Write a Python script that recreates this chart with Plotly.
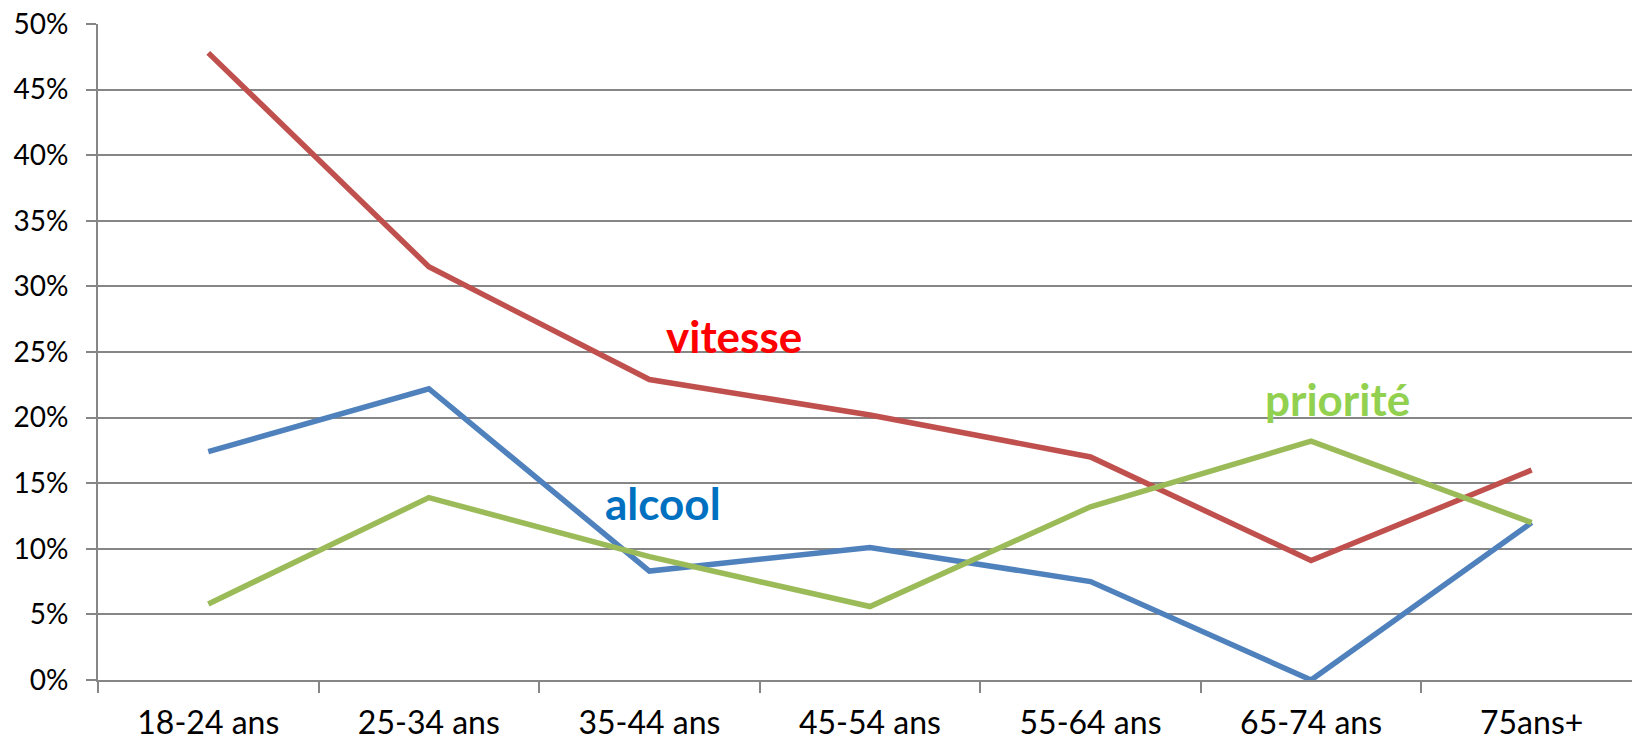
import plotly.graph_objects as go

categories = ["18-24 ans", "25-34 ans", "35-44 ans", "45-54 ans", "55-64 ans", "65-74 ans", "75ans+"]
vitesse = [47.8, 31.5, 22.9, 20.2, 17.0, 9.1, 16.0]
alcool = [17.4, 22.2, 8.3, 10.1, 7.5, 0.0, 12.0]
priorite = [5.8, 13.9, 9.4, 5.6, 13.2, 18.2, 12.0]
y_ticks = [0, 5, 10, 15, 20, 25, 30, 35, 40, 45, 50]
y_tick_labels = [f"{v}%" for v in y_ticks]

series = [
    ("vitesse", vitesse, "#C0504D"),
    ("alcool", alcool, "#4F81BD"),
    ("priorité", priorite, "#9BBB59"),
]

fig = go.Figure()
for name, vals, col in series:
    fig.add_trace(go.Scatter(x=categories, y=vals, mode="lines", name=name,
                             line=dict(color=col, width=5.5), showlegend=False))

labels = [
    ("vitesse", 2.385, 26.2, "#FF0000"),
    ("alcool", 2.063, 13.5, "#0070C0"),
    ("priorité", 5.118, 21.4, "#92D050"),
]
for txt, xi, yv, col in labels:
    fig.add_annotation(x=xi, y=yv, xref="x", yref="y", text=f"<b>{txt}</b>",
                       showarrow=False, font=dict(family="Lato", size=44, color=col))

fig.update_layout(
    width=1632, height=742,
    margin=dict(l=98, r=0, t=24, b=62),
    paper_bgcolor="white", plot_bgcolor="white",
    font=dict(family="Lato", color="black"),
)
fig.update_xaxes(
    type="category", categoryorder="array", categoryarray=categories,
    range=[-0.5, 6.455], tickson="boundaries", ticks="outside", ticklen=11,
    tickwidth=1.5, tickcolor="#868686", showline=True, linecolor="#868686", linewidth=2,
    showgrid=False, tickfont=dict(family="Lato", size=32, color="black"),
    ticklabelstandoff=14, automargin=False,
)
fig.update_yaxes(
    range=[0, 50], tickvals=y_ticks, ticktext=y_tick_labels,
    ticks="outside", ticklen=10, tickwidth=1.5, tickcolor="#868686",
    showline=True, linecolor="#868686", linewidth=2,
    showgrid=True, gridcolor="#868686", gridwidth=1.5, zeroline=False,
    tickfont=dict(family="Lato", size=28, color="black"),
    ticklabelstandoff=12, automargin=False,
)
fig.write_html(
    "out.html",
    config={"displayModeBar": False},
    post_script="document.body.style.margin='0';document.body.style.overflow='hidden';",
)
